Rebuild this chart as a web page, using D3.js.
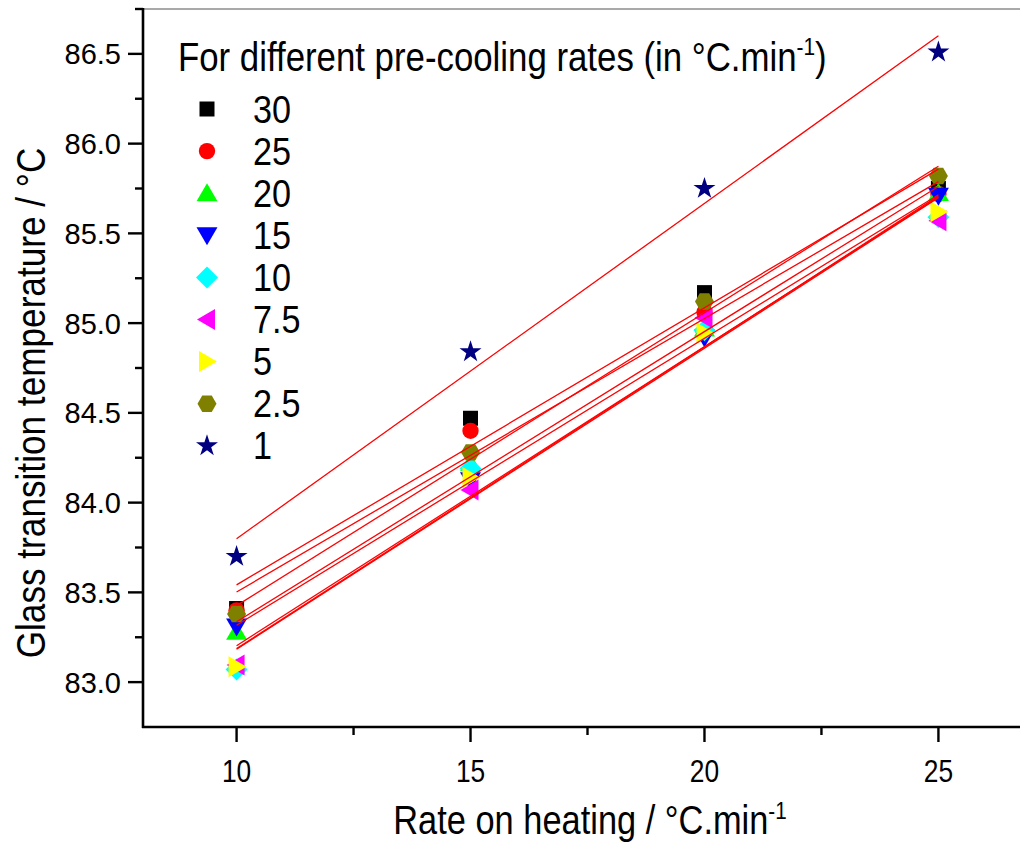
<!DOCTYPE html>
<html>
<head>
<meta charset="utf-8">
<script src="https://cdn.jsdelivr.net/npm/d3@7"></script>
<style>
  body { margin: 0; background: #fff; }
  svg { display: block; }
  text { font-family: "Liberation Sans", Arial, sans-serif; }
</style>
</head>
<body>
<div id="chart"></div>
<script>
// Heating rates (x) and Tg values for each pre-cooling rate
const heatingRates = [10, 15, 20, 25];
const coolingRates = ['30', '25', '20', '15', '10', '7.5', '5', '2.5', '1'];
const tg30 = [83.41, 84.47, 85.17, 85.75];
const tg25 = [83.40, 84.40, 85.06, 85.72];
const tg20 = [83.28, 84.22, 84.97, 85.725];
const tg15 = [83.31, 84.125, 84.92, 85.71];
const tg10 = [83.07, 84.19, 84.96, 85.59];
const tg7_5 = [83.095, 84.07, 85.03, 85.57];
const tg5 = [83.086, 84.14, 84.945, 85.62];
const tg2_5 = [83.38, 84.28, 85.12, 85.82];
const tg1 = [83.70, 84.84, 85.75, 86.51];
const yTicks = [83.0, 83.5, 84.0, 84.5, 85.0, 85.5, 86.0, 86.5];
const xTicks = [10, 15, 20, 25];

const seriesValues = [tg30, tg25, tg20, tg15, tg10, tg7_5, tg5, tg2_5, tg1];
const colors = ['#000000', '#ff0000', '#00ff00', '#0000ff', '#00ffff', '#ff00ff', '#ffff00', '#808000', '#000080'];
const shapes = ['square', 'circle', 'up', 'down', 'diamond', 'left', 'right', 'hexagon', 'star'];

const W = 1020, H = 845;
const svg = d3.select('#chart').append('svg').attr('width', W).attr('height', H);

const x = d3.scaleLinear().domain([8, 27]).range([143, 1032]);
const y = d3.scaleLinear().domain([82.75, 86.75]).range([727, 9]);

// Marker paths centered at 0,0
function markerPath(shape) {
  if (shape === 'square') return 'M-7.5,-7.5H7.5V7.5H-7.5Z';
  if (shape === 'circle') return d3.symbol(d3.symbolCircle, 210)();
  if (shape === 'up') return 'M0,-10L10.5,8L-10.5,8Z';
  if (shape === 'down') return 'M0,10L10.5,-8L-10.5,-8Z';
  if (shape === 'left') return 'M-10,0L8,-10.5L8,10.5Z';
  if (shape === 'right') return 'M10,0L-8,-10.5L-8,10.5Z';
  if (shape === 'diamond') return 'M0,-11L11,0L0,11L-11,0Z';
  if (shape === 'hexagon') {
    const r = 9.5;
    return d3.range(6).map(i => {
      const a = Math.PI / 3 * i;
      return (i ? 'L' : 'M') + (r * Math.cos(a)).toFixed(2) + ',' + (r * Math.sin(a)).toFixed(2);
    }).join('') + 'Z';
  }
  return d3.symbol(d3.symbolStar, 150)();
}

// condensed text: scale horizontally around the anchor
function narrowText(parent, px, py, sx, size, anchor) {
  return parent.append('text')
    .attr('transform', `translate(${px},${py}) scale(${sx},1)`)
    .attr('text-anchor', anchor)
    .style('font-size', size + 'px');
}

// Frame top line
svg.append('line')
  .attr('x1', 143).attr('x2', W).attr('y1', 9).attr('y2', 9)
  .attr('stroke', '#555').attr('stroke-width', 1.2);

// Axes
const axisG = svg.append('g');
axisG.append('line').attr('x1', 143).attr('x2', 143).attr('y1', 8).attr('y2', 728)
  .attr('stroke', '#000').attr('stroke-width', 2.6);
axisG.append('line').attr('x1', 142).attr('x2', W).attr('y1', 727).attr('y2', 727)
  .attr('stroke', '#000').attr('stroke-width', 2.6);

const yMinor = d3.range(83.25, 86.76, 0.5);
axisG.selectAll('.ymaj').data(yTicks).join('line')
  .attr('x1', 128).attr('x2', 143).attr('y1', d => y(d)).attr('y2', d => y(d))
  .attr('stroke', '#000').attr('stroke-width', 2.4);
axisG.selectAll('.ymin').data(yMinor).join('line')
  .attr('x1', 135).attr('x2', 143).attr('y1', d => y(d)).attr('y2', d => y(d))
  .attr('stroke', '#000').attr('stroke-width', 2.4);
axisG.selectAll('.ylab').data(yTicks).join('text')
  .attr('x', 121).attr('y', d => y(d)).attr('dy', '0.36em')
  .attr('text-anchor', 'end')
  .style('font-size', '29px')
  .text(d => d.toFixed(1));

const xMinor = [12.5, 17.5, 22.5];
axisG.selectAll('.xmaj').data(xTicks).join('line')
  .attr('x1', d => x(d)).attr('x2', d => x(d)).attr('y1', 727).attr('y2', 742)
  .attr('stroke', '#000').attr('stroke-width', 2.4);
axisG.selectAll('.xmin').data(xMinor).join('line')
  .attr('x1', d => x(d)).attr('x2', d => x(d)).attr('y1', 727).attr('y2', 735)
  .attr('stroke', '#000').attr('stroke-width', 2.4);
xTicks.forEach(t => {
  narrowText(axisG, x(t), 782, 0.85, 31, 'middle').text(t);
});

// Axis titles
narrowText(svg, 45, 403, 0.88, 40, 'middle')
  .attr('transform', 'translate(45,403) rotate(-90) scale(0.88,1)')
  .text('Glass transition temperature / \u00B0C');

const xTitle = narrowText(svg, 590, 834, 0.86, 40, 'middle');
xTitle.append('tspan').text('Rate on heating / \u00B0C.min');
xTitle.append('tspan').attr('dy', -15).style('font-size', '24px').text('-1');

// Data points
const series = coolingRates.map((name, i) => ({
  name, values: seriesValues[i], color: colors[i], shape: shapes[i]
}));

series.forEach(s => {
  svg.append('g').selectAll('path')
    .data(s.values)
    .join('path')
    .attr('d', markerPath(s.shape))
    .attr('transform', (d, i) => `translate(${x(heatingRates[i])},${y(d)})`)
    .attr('fill', s.color);
});

// Linear fit lines
series.forEach(s => {
  const xm = d3.mean(heatingRates);
  const ym = d3.mean(s.values);
  const slope = d3.sum(heatingRates, (xv, i) => (xv - xm) * (s.values[i] - ym)) /
    d3.sum(heatingRates, xv => (xv - xm) ** 2);
  const fit = xv => ym + slope * (xv - xm);
  const x0 = heatingRates[0], x1 = heatingRates[heatingRates.length - 1];
  svg.append('line')
    .attr('x1', x(x0)).attr('y1', y(fit(x0)))
    .attr('x2', x(x1)).attr('y2', y(fit(x1)))
    .attr('stroke', '#ff0000').attr('stroke-width', 1.3);
});

// Legend
const legend = svg.append('g');
const lt = narrowText(legend, 178, 71, 0.87, 40, 'start');
lt.append('tspan').text('For different pre-cooling rates (in \u00B0C.min');
lt.append('tspan').attr('dy', -16).style('font-size', '24px').text('-1');
lt.append('tspan').attr('dy', 16).text(')');

const rows = legend.selectAll('.row').data(series).join('g')
  .attr('transform', (d, i) => `translate(0,${109 + i * 42.1})`);
rows.append('path')
  .attr('d', d => markerPath(d.shape))
  .attr('transform', 'translate(207,0)')
  .attr('fill', d => d.color);
rows.append('text')
  .attr('transform', 'translate(253,0) scale(0.9,1)')
  .attr('dy', '0.36em')
  .style('font-size', '38px')
  .text(d => d.name);
</script>
</body>
</html>
